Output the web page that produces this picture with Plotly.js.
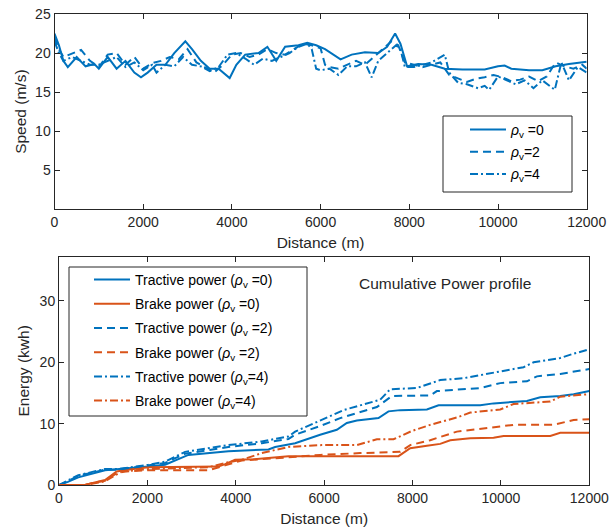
<!DOCTYPE html>
<html><head><meta charset="utf-8">
<script src="https://cdn.plot.ly/plotly-3.0.1.min.js"></script>
<style>body{margin:0;padding:0;background:#fff}#c{width:610px;height:529px}</style>
</head><body><div id="c"></div>
<script>
// ---- Speed profiles (top) ----
const dist0 = [0,100,200,300,500,700,900,1000,1200,1400,1600,1800,1950,2100,2300,2500,2700,2950,3100,3300,3500,3700,3950,4100,4300,4600,4800,5000,5200,5500,5700,5900,6100,6450,6700,7000,7300,7500,7680,7800,7950,8200,8500,8800,9200,9700,10000,10150,10300,10700,11000,11300,11600,12000];
const speed0 = [22.5,21,19,18.2,19.5,18.3,18.6,18,19.5,18,19,17.5,16.9,17.5,18.5,18.5,20,21.5,20.5,19,18,18,16.8,18.5,19.8,20,20.8,19,20.8,21,21.3,21,20.5,19.2,19.8,20.1,20,20.8,22.5,21.2,18.3,18.6,18.5,18,17.9,17.9,18.3,18.4,18,17.8,17.8,18.3,18.6,18.9];
const dist2 = [0,100,200,400,600,800,1000,1200,1400,1600,1800,2000,2200,2400,2600,2800,3000,3200,3400,3600,3800,4000,4200,4400,4600,4800,5000,5200,5400,5600,5800,6000,6100,6200,6400,6600,6800,7000,7200,7400,7600,7750,7900,8100,8300,8500,8700,8900,9100,9300,9500,9700,9900,10100,10300,10500,10700,10900,11100,11300,11500,11700,11900,12000];
const speed2 = [22,20.5,19.5,20,20.4,19,18.2,19.8,20,18.5,19.5,18,18.7,19,19.5,19.2,20.5,18.8,18.2,17.5,18.5,19.8,20,19.5,19.8,20.5,20,19.8,20.5,21.2,21,20.6,18.5,18.2,18,18.5,19,18.5,19.5,20.5,21.5,21,18.8,18.5,18.2,18.5,18.8,17.2,16.8,16.3,16.7,16.9,17.2,16.9,16.4,16.6,17,16.4,17,18.8,18.3,18,18.5,18];
const dist4 = [0,100,200,400,600,800,1000,1200,1400,1600,1800,2000,2200,2300,2500,2700,2900,3100,3300,3500,3700,3900,4100,4300,4500,4700,4900,5100,5300,5500,5700,5800,5900,6000,6200,6400,6600,6800,7000,7150,7300,7500,7700,7800,7900,8100,8300,8500,8800,8900,9100,9300,9550,9700,9800,10000,10200,10400,10600,10800,11000,11280,11430,11600,11800,12000];
const speed4 = [21.5,20,19,19.5,19,18.5,18.5,19,19.5,18.2,18.8,17.8,18.5,17.5,18.5,18.3,19.5,18.5,18.3,17.7,18.2,19.8,20,19.3,18.5,19.3,19,19.5,20,20.8,21.2,20.5,18,17.8,18,17.2,18.3,18.3,18.8,16.9,19,20,21,20.5,18.2,18.2,18.5,18.8,19.8,17.5,16.2,16,15.5,15.8,15.3,17,16.5,16,16.5,15.5,16.5,15.3,18.8,16.5,18.2,17.5];

// ---- Cumulative energy (bottom) ----
const tracDist0 = [0,200,437,1042,2022,2400,2928,3381,3834,4740,4890,5343,5645,5909,6287,6513,6740,7230,7456,7721,8325,8589,9532,9834,10589,10890,11343,11645,12000];
const tracE0 = [0,0.5,1.25,2.4,3.0,3.3,4.9,5.2,5.5,5.8,6.2,6.8,7.6,8.2,9.0,10.1,10.5,10.9,12.0,12.2,12.3,13.0,13.0,13.3,13.7,14.3,14.5,14.8,15.3];
const brakeDist0 = [0,588,740,1042,1306,1494,2022,3607,3758,3985,4400,4815,5192,7683,7947,8325,8626,8853,9306,9834,10060,11117,11343,12000];
const brakeE0 = [0,0,0.3,0.8,2.2,2.45,2.9,3.0,3.4,4.1,4.2,4.5,4.7,4.7,6.0,6.4,6.7,7.3,7.6,7.7,8.0,8.0,8.5,8.5];
const tracDist2 = [0,200,437,1042,1344,2022,2400,2853,3230,3834,4589,5192,5343,5909,6362,7193,7533,8400,8551,9532,9985,10589,10815,11343,12000];
const tracE2 = [0,0.6,1.5,2.5,2.5,3.2,3.6,5.1,5.5,6.2,6.8,7.5,8.2,9.6,10.9,12.7,14.5,14.6,15.3,15.8,16.6,16.9,17.7,18.1,18.9];
const brakeDist2 = [0,588,740,1042,1306,1494,2022,3381,3758,4136,5192,5909,6815,7721,7947,8400,9004,9985,10287,11192,11645,12000];
const brakeE2 = [0,0,0.3,0.7,1.9,2.2,2.4,2.4,3.2,4.0,4.5,4.9,5.2,5.4,6.5,7.3,8.7,9.5,9.8,9.8,10.6,10.7];
const tracDist4 = [0,200,437,1042,1344,2022,2400,2853,3230,3834,4589,5192,5343,5947,6437,7268,7494,8098,8626,9154,10060,10513,10740,11343,11645,12000];
const tracE4 = [0,0.7,1.6,2.6,2.6,3.3,3.8,5.4,5.8,6.5,7.1,7.9,8.7,10.6,12.2,13.9,15.6,15.8,17.1,17.4,18.6,19.2,20.0,20.7,21.4,22.1];
const brakeDist4 = [0,588,740,1042,1420,2022,3381,3834,4136,4589,5192,5947,6740,7193,7570,7985,8400,9004,9306,9985,10287,11117,11343,12000];
const brakeE4 = [0,0,0.2,0.6,2.2,2.6,2.9,3.7,4.1,5.2,6.2,6.5,6.5,7.45,7.45,8.8,9.8,11.0,11.8,12.3,13.2,13.6,14.4,14.8];

// ---- Labels ----
const distTicks = [0,2000,4000,6000,8000,10000,12000];
const distTickText = ['0','2000','4000','6000','8000','10000','12000'];
const speedTicks = [5,10,15,20,25];
const energyTicks = [0,10,20,30];
const speedNames = ['<i>ρ</i><sub>v</sub> =0','<i>ρ</i><sub>v</sub>=2','<i>ρ</i><sub>v</sub>=4'];
const energyNames = ['Tractive power (<i>ρ</i><sub>v</sub> =0)','Brake power (<i>ρ</i><sub>v</sub> =0)','Tractive power (<i>ρ</i><sub>v</sub> =2)','Brake power (<i>ρ</i><sub>v</sub> =2)','Tractive power (<i>ρ</i><sub>v</sub>=4)','Brake power (<i>ρ</i><sub>v</sub>=4)'];

const BLUE = '#0072BD', ORANGE = '#D95319';
const DASH = '8px,5px', DASHDOT = '8px,3px,2px,3px';
const LW = 2;

function tr(x, y, name, color, dash, xa, ya, lg, grp) {
  return {x, y, name, type:'scatter', mode:'lines', xaxis:xa, yaxis:ya, legend:lg, legendgroup:grp,
          line:{color, width:LW, dash}};
}
const data = [
  tr(dist0, speed0, speedNames[0], BLUE, 'solid', 'x', 'y', 'legend', 's0'),
  tr(dist2, speed2, speedNames[1], BLUE, DASH, 'x', 'y', 'legend', 's2'),
  tr(dist4, speed4, speedNames[2], BLUE, DASHDOT, 'x', 'y', 'legend', 's4'),
  tr(tracDist0, tracE0, energyNames[0], BLUE, 'solid', 'x2', 'y2', 'legend2', 'e0'),
  tr(brakeDist0, brakeE0, energyNames[1], ORANGE, 'solid', 'x2', 'y2', 'legend2', 'e1'),
  tr(tracDist2, tracE2, energyNames[2], BLUE, DASH, 'x2', 'y2', 'legend2', 'e2'),
  tr(brakeDist2, brakeE2, energyNames[3], ORANGE, DASH, 'x2', 'y2', 'legend2', 'e3'),
  tr(tracDist4, tracE4, energyNames[4], BLUE, DASHDOT, 'x2', 'y2', 'legend2', 'e4'),
  tr(brakeDist4, brakeE4, energyNames[5], ORANGE, DASHDOT, 'x2', 'y2', 'legend2', 'e5')
];

const AX = '#262626';
const FAM = 'Liberation Sans, Arial, sans-serif';
const TICKF = {family:FAM, size:14, color:AX};
const TITLEF = {family:FAM, size:15.5, color:AX};
const LEGF = {family:FAM, size:14, color:'#000'};
function axis(extra) {
  return Object.assign({showline:true, linecolor:AX, linewidth:1, mirror:'ticks', ticks:'inside', ticklen:5,
    tickcolor:AX, tickwidth:1, showgrid:false, zeroline:false, tickfont:TICKF, automargin:false}, extra);
}
const H = 529, Wd = 610;
const layout = {
  width:Wd, height:H, margin:{l:0,r:0,t:0,b:0}, paper_bgcolor:'#fff', plot_bgcolor:'#fff',
  font:TICKF, showlegend:true,
  xaxis: axis({domain:[54.5/Wd, 586.7/Wd], range:[0,12000], tickvals:distTicks, ticktext:distTickText, anchor:'y',
    title:{text:'Distance (m)', font:TITLEF, standoff:8}}),
  yaxis: axis({domain:[1-209.3/H, 1-14/H], range:[0,25], tickvals:speedTicks, anchor:'x',
    title:{text:'Speed (m/s)', font:TITLEF, standoff:4}}),
  xaxis2: axis({domain:[59/Wd, 589.3/Wd], range:[0,12000], tickvals:distTicks, ticktext:distTickText, anchor:'y2',
    title:{text:'Distance (m)', font:TITLEF, standoff:8}}),
  yaxis2: axis({domain:[1-485/H, 1-256.7/H], range:[0,37.2], tickvals:energyTicks, anchor:'x2',
    title:{text:'Energy (kwh)', font:TITLEF, standoff:6}}),
  legend: {x:465/Wd, y:1-114/H, xanchor:'left', yanchor:'top', borderwidth:0, bgcolor:'rgba(0,0,0,0)',
    font:LEGF, tracegroupgap:1, itemwidth:36},
  legend2: {x:89/Wd, y:1-264/H, xanchor:'left', yanchor:'top', borderwidth:0, bgcolor:'rgba(0,0,0,0)',
    font:LEGF, tracegroupgap:3, itemwidth:36},
  shapes:[
    {type:'rect', xref:'paper', yref:'paper', x0:443/Wd, x1:572/Wd, y0:1-192/H, y1:1-116/H, line:{color:AX, width:1}, fillcolor:'rgba(0,0,0,0)'},
    {type:'rect', xref:'paper', yref:'paper', x0:69/Wd, x1:307/Wd, y0:1-416/H, y1:1-267/H, line:{color:AX, width:1}, fillcolor:'rgba(0,0,0,0)'}
  ],
  annotations:[{text:'Cumulative Power profile', xref:'paper', yref:'paper', x:445/Wd, y:1-283/H,
    xanchor:'center', yanchor:'middle', showarrow:false, font:TITLEF}]
};
Plotly.newPlot('c', data, layout, {displayModeBar:false, staticPlot:true});
</script></body></html>
